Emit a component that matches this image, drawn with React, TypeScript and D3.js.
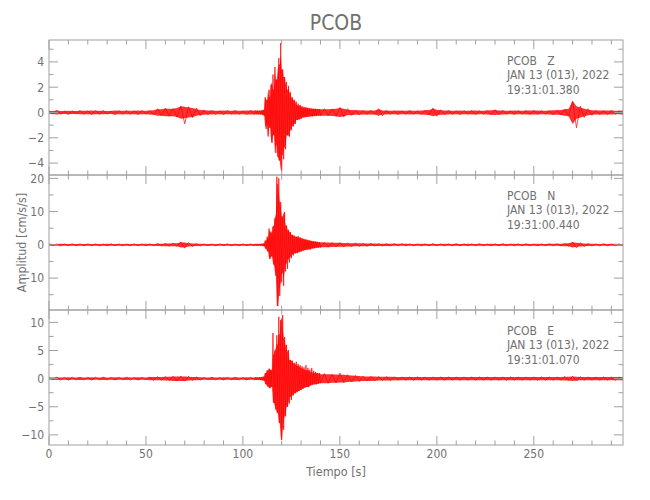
import React from 'react';
import * as d3 from 'd3';

const TITLE = 'PCOB';
const STATION = 'PCOB';
const CHANNELS = ['Z', 'N', 'E'];
const DATE_LABEL = 'JAN 13 (013), 2022';
const START_TIMES = ['19:31:01.380', '19:31:00.440', '19:31:01.070'];
const X_LABEL = 'Tiempo [s]';
const Y_LABEL = 'Amplitud [cm/s/s]';
const X_DOMAIN = [0, 296];
const X_MAJOR = [0, 50, 100, 150, 200, 250];
const X_MINOR_STEP = 10;
const Y_DOMAINS = [[-4.94, 5.73], [-19.6, 21], [-11.8, 12.2]];
const Y_MAJOR = [[-4, -2, 0, 2, 4], [-10, 0, 10, 20], [-10, -5, 0, 5, 10]];
const Y_MINOR_STEP = [1, 5, 2.5];

// sampling segments: [start time, step] (s)
const SEG_PRE = [0, 2];
const SEG_EVENT = [106.5, 0.5];
const SEG_POST = [142, 2];

// Z component peaks (cm/s/s)
const Z_PRE = [
  0.15, -0.12, 0.18, -0.15, 0.12, -0.16, 0.14, -0.12, 0.17, -0.14,
  0.13, -0.15, 0.16, -0.13, 0.15, -0.14, 0.12, -0.17, 0.15, -0.13,
  0.16, -0.14, 0.13, -0.15, 0.17, -0.14, 0.15, -0.18, 0.3, -0.25,
  0.35, -0.3, 0.3, -0.35, 0.5, -0.9, 0.45, -0.4, 0.35, -0.25,
  0.2, -0.18, 0.15, -0.17, 0.14, -0.15, 0.18, -0.14, 0.16, -0.15,
  0.14, -0.16, 0.17, -0.15,
];
const Z_EVENT = [
  0.15, -0.14, 0.16, -0.15, 0.14, -0.16, 0.15, -0.17, 0.2, -0.25,
  1.2, -1.3, 1.0, -1.9, 1.8, -1.2, 2.2, -2.4, 3.0, -1.8,
  3.6, -3.2, 2.6, -3.5, 4.3, -3.8, 5.5, -4.6, 3.4, -3.7,
  2.8, -2.9, 2.4, -1.8, 2.1, -1.9, 1.6, -1.4, 1.2, -1.1,
  1.0, -0.9, 0.85, -0.6, 0.7, -0.55, 0.6, -0.5, 0.5, -0.4,
  0.45, -0.38, 0.42, -0.35, 0.38, -0.33, 0.35, -0.3, 0.32, -0.3,
  0.3, -0.28, 0.3, -0.27, 0.28, -0.26, 0.27, -0.25,
];
const Z_POST = [
  0.3, -0.25, 0.28, -0.3, 0.4, -0.35, 0.3, -0.22, 0.2, -0.18,
  0.18, -0.16, 0.17, -0.15, 0.3, -0.25, 0.16, -0.15, 0.14, -0.16,
  0.15, -0.14, 0.16, -0.15, 0.14, -0.16, 0.18, -0.2, 0.35, -0.3,
  0.22, -0.18, 0.16, -0.15, 0.14, -0.16, 0.15, -0.14, 0.15, -0.16,
  0.15, -0.14, 0.16, -0.18, 0.22, -0.2, 0.16, -0.15, 0.14, -0.15,
  0.16, -0.14, 0.15, -0.16, 0.17, -0.15, 0.16, -0.14, 0.15, -0.17,
  0.18, -0.2, 0.25, -0.3, 0.9, -1.2, 0.5, -0.4, 0.3, -0.22,
  0.18, -0.16, 0.15, -0.17, 0.16, -0.15, 0.14, -0.16, 0.15,
];

// N component peaks
const N_PRE = [
  0.3, -0.3, 0.25, -0.3, 0.3, -0.25, 0.3, -0.28, 0.25, -0.3,
  0.28, -0.25, 0.3, -0.28, 0.25, -0.3, 0.3, -0.25, 0.28, -0.3,
  0.25, -0.28, 0.3, -0.25, 0.28, -0.3, 0.3, -0.28, 0.4, -0.35,
  0.4, -0.4, 0.5, -0.45, 0.8, -1.0, 0.7, -0.5, 0.4, -0.35,
  0.3, -0.28, 0.25, -0.3, 0.28, -0.25, 0.3, -0.28, 0.25, -0.3,
  0.28, -0.25, 0.3, -0.28,
];
const N_EVENT = [
  0.3, -0.28, 0.3, -0.3, 0.28, -0.3, 0.3, -0.35, 0.4, -0.4,
  1.3, -1.2, 2.5, -2.0, 4.9, -4.2, 4.0, -3.5, 5.5, -6.0,
  8.0, -9.3, 20.5, -18.4, 20.0, -15.4, 12.9, -11.3, 8.5, -12.3,
  9.9, -8.0, 5.8, -7.2, 4.5, -5.3, 3.8, -4.0, 3.0, -3.2,
  2.8, -2.6, 2.4, -2.5, 2.6, -2.2, 2.3, -2.0, 2.0, -1.8,
  1.8, -1.6, 1.6, -1.5, 1.5, -1.4, 1.3, -1.4, 1.2, -1.1,
  1.1, -1.0, 1.0, -0.9, 0.9, -0.85, 0.8, -0.8,
];
const N_POST = [
  0.75, -0.7, 0.7, -0.65, 0.6, -0.6, 0.55, -0.5, 0.5, -0.45,
  0.45, -0.4, 0.4, -0.38, 0.38, -0.35, 0.35, -0.33, 0.33, -0.3,
  0.3, -0.3, 0.3, -0.28, 0.28, -0.3, 0.3, -0.28, 0.3, -0.3,
  0.28, -0.3, 0.3, -0.28, 0.3, -0.3, 0.28, -0.3, 0.3, -0.28,
  0.3, -0.3, 0.28, -0.3, 0.3, -0.28, 0.3, -0.3, 0.28, -0.3,
  0.3, -0.28, 0.3, -0.3, 0.28, -0.3, 0.3, -0.28, 0.3, -0.3,
  0.3, -0.35, 0.4, -0.45, 0.8, -0.9, 0.6, -0.5, 0.4, -0.35,
  0.3, -0.28, 0.3, -0.3, 0.28, -0.3, 0.3, -0.28, 0.3,
];

// E component peaks
const E_PRE = [
  0.25, -0.22, 0.25, -0.25, 0.22, -0.25, 0.25, -0.22, 0.25, -0.25,
  0.22, -0.25, 0.25, -0.22, 0.25, -0.25, 0.22, -0.25, 0.25, -0.22,
  0.25, -0.25, 0.22, -0.25, 0.25, -0.22, 0.28, -0.3, 0.35, -0.3,
  0.35, -0.35, 0.4, -0.4, 0.45, -0.4, 0.4, -0.35, 0.3, -0.28,
  0.25, -0.22, 0.25, -0.25, 0.22, -0.25, 0.25, -0.22, 0.25, -0.25,
  0.22, -0.25, 0.25, -0.22,
];
const E_EVENT = [
  0.25, -0.25, 0.25, -0.22, 0.25, -0.25, 0.3, -0.3, 0.35, -0.4,
  1.0, -1.0, 1.5, -1.4, 1.8, -1.7, 1.6, -1.5, 8.1, -4.3,
  5.0, -5.5, 7.7, -6.1, 11.0, -7.9, 10.4, -10.9, 11.3, -9.1,
  7.4, -6.7, 6.0, -5.0, 5.1, -4.4, 3.3, -3.8, 3.2, -3.0,
  2.8, -2.6, 3.0, -2.4, 2.6, -2.2, 2.4, -2.0, 2.2, -1.8,
  2.0, -1.6, 2.4, -1.5, 1.9, -1.5, 1.6, -1.2, 1.9, -1.1,
  1.4, -1.0, 1.2, -1.0, 1.0, -0.9, 1.0, -0.8,
];
const E_POST = [
  0.9, -0.8, 0.8, -0.75, 1.0, -0.7, 0.7, -0.6, 0.55, -0.5,
  0.45, -0.4, 0.4, -0.4, 0.38, -0.35, 0.35, -0.33, 0.33, -0.3,
  0.3, -0.28, 0.28, -0.3, 0.3, -0.28, 0.28, -0.3, 0.3, -0.28,
  0.28, -0.3, 0.3, -0.28, 0.28, -0.3, 0.3, -0.28, 0.28, -0.3,
  0.3, -0.28, 0.28, -0.3, 0.3, -0.28, 0.28, -0.3, 0.3, -0.28,
  0.28, -0.3, 0.3, -0.28, 0.28, -0.3, 0.3, -0.28, 0.28, -0.3,
  0.3, -0.3, 0.35, -0.35, 0.4, -0.4, 0.35, -0.3, 0.3, -0.28,
  0.28, -0.3, 0.3, -0.28, 0.28, -0.3, 0.3, -0.28, 0.28,
];

const TRACES = [
  [Z_PRE, Z_EVENT, Z_POST],
  [N_PRE, N_EVENT, N_POST],
  [E_PRE, E_EVENT, E_POST],
];

const W = 650;
const H = 500;
const LEFT = 49;
const RIGHT = 623;
const TOP = 40;
const PH = 135;
const FONT = "'Liberation Sans Narrow', 'DejaVu Sans Condensed', 'Liberation Sans', sans-serif";
const TEXT_COLOR = '#707070';
const AXIS_COLOR = '#a0a0a0';
const TRACE_COLOR = '#ff0000';

type Pt = { t: number; v: number; band: number };

function toPoints(segs: number[][]): Pt[] {
  const starts = [SEG_PRE, SEG_EVENT, SEG_POST];
  const raw: [number, number][] = [];
  segs.forEach((vals, k) => {
    vals.forEach((v, i) => raw.push([starts[k][0] + i * starts[k][1], v]));
  });
  // conservative band: the smaller of each peak and the next one
  return raw.map(([t, v], i) => {
    const next = raw[i + 1] ? raw[i + 1][1] : v;
    return { t, v, band: Math.min(Math.abs(v), Math.abs(next)) };
  });
}

export default function App() {
  const x = d3.scaleLinear().domain(X_DOMAIN).range([LEFT, RIGHT]);
  const xMinor = d3.range(X_DOMAIN[0], X_DOMAIN[1] + 0.001, X_MINOR_STEP);
  const bottom = TOP + PH * 3;

  return (
    <svg width={W} height={H} style={{ position: 'absolute', left: 0, top: 0, background: '#fff' }}>
      <text x={(LEFT + RIGHT) / 2} y={30} textAnchor="middle" fontFamily={FONT} fontSize={21} fill={TEXT_COLOR}>
        {TITLE}
      </text>
      {TRACES.map((segs, i) => {
        const y0 = TOP + PH * i;
        const y1 = y0 + PH;
        const y = d3.scaleLinear().domain(Y_DOMAINS[i]).range([y1, y0]);
        const pts = toPoints(segs);
        const line = d3.line<Pt>().x((d) => x(d.t)).y((d) => y(d.v));
        const area = d3
          .area<Pt>()
          .x((d) => x(d.t))
          .y0((d) => y(-d.band))
          .y1((d) => y(d.band));
        const yMinor = d3.range(
          Math.ceil(Y_DOMAINS[i][0] / Y_MINOR_STEP[i]) * Y_MINOR_STEP[i],
          Y_DOMAINS[i][1] + 0.001,
          Y_MINOR_STEP[i]
        );
        const clipId = `clip${i}`;
        return (
          <g key={i}>
            <defs>
              <clipPath id={clipId}>
                <rect x={LEFT} y={y0} width={RIGHT - LEFT} height={PH} />
              </clipPath>
            </defs>
            <g clipPath={`url(#${clipId})`}>
              <path d={area(pts) || ''} fill="#ff1a1a" fillOpacity={0.9} stroke="none" />
              <path d={line(pts) || ''} fill="none" stroke={TRACE_COLOR} strokeWidth={0.7} strokeLinejoin="round" />
            </g>
            <rect x={LEFT} y={y0} width={RIGHT - LEFT} height={PH} fill="none" stroke={AXIS_COLOR} strokeWidth={1} />
            {xMinor.map((t) => {
              const major = Math.abs(t % 50) < 1e-6;
              const len = major ? 9 : 4.5;
              return (
                <g key={`xt${t}`}>
                  <line x1={x(t)} x2={x(t)} y1={y0} y2={y0 + len} stroke={AXIS_COLOR} />
                  <line x1={x(t)} x2={x(t)} y1={y1} y2={y1 - len} stroke={AXIS_COLOR} />
                </g>
              );
            })}
            {yMinor.map((v) => {
              const major = Y_MAJOR[i].some((m) => Math.abs(m - v) < 1e-6);
              const len = major ? 9 : 4.5;
              return (
                <g key={`yt${v}`}>
                  <line x1={LEFT} x2={LEFT + len} y1={y(v)} y2={y(v)} stroke={AXIS_COLOR} />
                  <line x1={RIGHT} x2={RIGHT - len} y1={y(v)} y2={y(v)} stroke={AXIS_COLOR} />
                </g>
              );
            })}
            {Y_MAJOR[i].map((v) => (
              <text key={`yl${v}`} x={44} y={y(v)} dy="0.36em" textAnchor="end" fontFamily={FONT} fontSize={12} fill={TEXT_COLOR}>
                {v < 0 ? `\u2212${Math.abs(v)}` : `${v}`}
              </text>
            ))}
            <text x={507} y={y0 + 25} fontFamily={FONT} fontSize={12} fill={TEXT_COLOR} style={{ whiteSpace: 'pre' }}>
              {`${STATION}   ${CHANNELS[i]}`}
            </text>
            <text x={507} y={y0 + 39} fontFamily={FONT} fontSize={12} fill={TEXT_COLOR} style={{ whiteSpace: 'pre' }}>
              {DATE_LABEL}
            </text>
            <text x={507} y={y0 + 54} fontFamily={FONT} fontSize={12} fill={TEXT_COLOR}>
              {START_TIMES[i]}
            </text>
          </g>
        );
      })}
      {X_MAJOR.map((t) => (
        <text key={`xl${t}`} x={x(t)} y={bottom + 13} textAnchor="middle" fontFamily={FONT} fontSize={12} fill={TEXT_COLOR}>
          {t}
        </text>
      ))}
      <text x={(LEFT + RIGHT) / 2} y={476} textAnchor="middle" fontFamily={FONT} fontSize={12.5} fill={TEXT_COLOR} style={{ whiteSpace: 'pre' }}>
        {X_LABEL}
      </text>
      <text
        transform={`translate(26, ${TOP + PH * 1.5}) rotate(-90)`}
        textAnchor="middle"
        fontFamily={FONT}
        fontSize={12.5}
        fill={TEXT_COLOR}
        style={{ whiteSpace: 'pre' }}
      >
        {Y_LABEL}
      </text>
    </svg>
  );
}
